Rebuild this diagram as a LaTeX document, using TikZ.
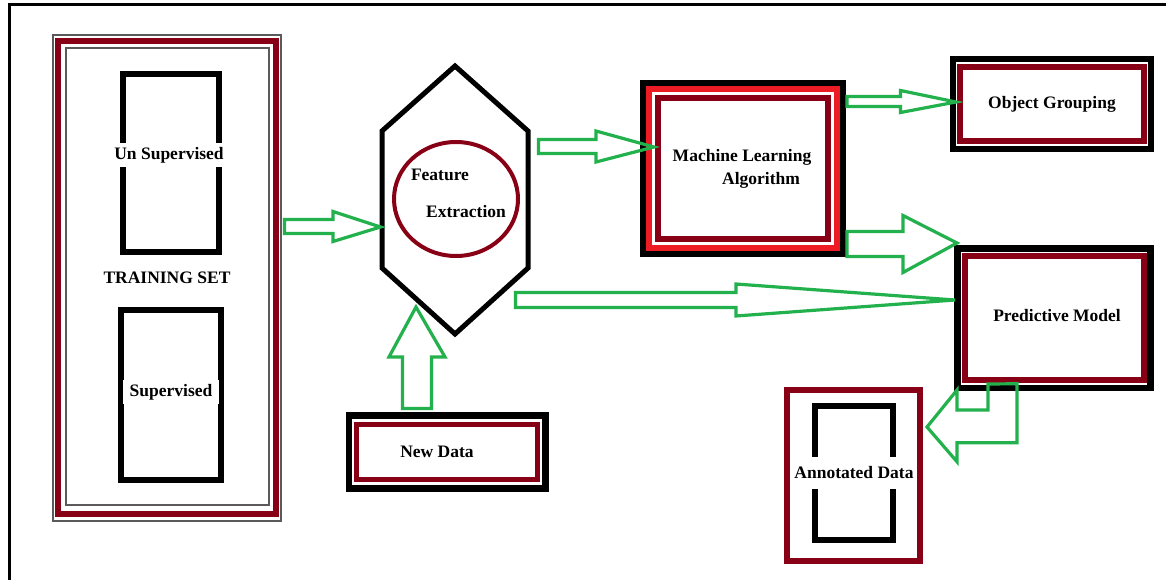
\documentclass[tikz,border=0pt]{standalone}
\usepackage{fontspec}
\setmainfont{Liberation Serif}
\usetikzlibrary{calc,shapes.geometric}

\definecolor{paintdarkred}{HTML}{880015}
\definecolor{paintred}{HTML}{ED1C24}
\definecolor{paintgreen}{HTML}{22B14C}
\definecolor{framegray}{HTML}{5A5A5A}

% hollow block arrows: tail, tip, body half width, head half width, head length
\newcommand{\rightflow}[5]{%
  \draw[flow] let \p1=(#1), \p2=(#2) in
    (\x1,\y1+#3pt) -- (\x2-#5pt,\y1+#3pt) -- (\x2-#5pt,\y1+#4pt) -- (\x2,\y2)
    -- (\x2-#5pt,\y1-#4pt) -- (\x2-#5pt,\y1-#3pt) -- (\x1,\y1-#3pt) -- cycle;}
\newcommand{\upflow}[5]{%
  \draw[flow] let \p1=(#1), \p2=(#2) in
    (\x1-#3pt,\y1) -- (\x1-#3pt,\y2-#5pt) -- (\x1-#4pt,\y2-#5pt) -- (\x2,\y2)
    -- (\x1+#4pt,\y2-#5pt) -- (\x1+#3pt,\y2-#5pt) -- (\x1+#3pt,\y1) -- cycle;}

\begin{document}
\begin{tikzpicture}[x=1pt,y=-1pt,
	every node/.style={font=\bfseries\fontsize{17.5}{20}\selectfont},
	blackbox/.style={rectangle,draw=black,inner sep=0pt,outer sep=0pt},
	redbox/.style={rectangle,draw=paintdarkred,inner sep=0pt,outer sep=0pt},
	gap/.style={fill=white,inner xsep=2pt,inner ysep=4pt},
	flow/.style={draw=paintgreen,line width=3.2pt}]
	\useasboundingbox (0,0) rectangle (1166,580);

	% Define page frame
	\draw[line width=3pt] (9,590) -- (9,5) -- (1176,5);

	% Define training set
	\node[redbox, line width=6pt, minimum width=218pt, minimum height=473pt] (TrainSet) at (167,277.5) {TRAINING SET};
	\draw[draw=framegray, line width=1.2pt] ([shift={(-5,-6)}]TrainSet.north west) rectangle ([shift={(5,7)}]TrainSet.south east);
	\draw[draw=framegray, line width=1.2pt] ([shift={(8,7)}]TrainSet.north west) rectangle ([shift={(-7,-9)}]TrainSet.south east);

	\node[blackbox, line width=6pt, minimum width=96pt, minimum height=178pt] (Unsup) at (171,163) {};
	\node[gap] (UnsupText) at ($(Unsup.center)+(-2,-8)$) {Un Supervised};
	\node[blackbox, line width=6pt, minimum width=100pt, minimum height=170pt] (Sup) at (171,395) {};
	\node[gap, inner xsep=7pt] (SupText) at ($(Sup.center)+(0,-3)$) {Supervised};

	% Define feature extraction
	\node[inner sep=0pt, outer sep=0pt, minimum width=146pt, minimum height=268pt] (Hex) at (455,200) {};
	\draw[line width=5pt] (Hex.north) -- ($(Hex.north east)+(0,65)$) -- ($(Hex.south east)+(0,-66)$)
		-- (Hex.south) -- ($(Hex.south west)+(0,-66)$) -- ($(Hex.north west)+(0,65)$) -- cycle;
	\node[ellipse, draw=paintdarkred, line width=4pt, inner sep=0pt, minimum width=124pt, minimum height=114pt] (Feature) at (456,199) {};
	\node (FeatureTop) at ($(Feature.center)+(-16,-24)$) {Feature};
	\node (FeatureBottom) at ($(Feature.center)+(10,13)$) {Extraction};

	% Define new data
	\node[blackbox, line width=6.5pt, minimum width=196.5pt, minimum height=73pt] (NewData) at (447,452) {};
	\node[redbox, line width=5pt, minimum width=181pt, minimum height=55.5pt] (NewDataIn) at (NewData.center) {};
	\node (NewDataText) at ($(NewData.center)+(-10,0)$) {New Data};

	% Define machine learning algorithm
	\node[blackbox, line width=5.5pt, minimum width=200pt, minimum height=171pt] (MLBox) at (743,168.5) {};
	\node[rectangle, draw=paintred, line width=6pt, outer sep=0pt, minimum width=188pt, minimum height=158pt] (MLRed) at (MLBox.center) {};
	\node[redbox, line width=6pt, minimum width=170pt, minimum height=140pt] (MLIn) at (MLBox.center) {};
	\node (MLTop) at ($(MLBox.center)+(-1,-11.5)$) {Machine Learning};
	\node (MLBottom) at ($(MLBox.center)+(18,11.5)$) {Algorithm};

	% Define object grouping
	\node[blackbox, line width=6pt, minimum width=198pt, minimum height=89.5pt] (ObjBox) at (1052,104) {};
	\node[redbox, line width=6pt, minimum width=184.5pt, minimum height=74pt] (ObjIn) at (ObjBox.center) {Object Grouping};

	% Define predictive model
	\node[blackbox, line width=6.5pt, minimum width=193pt, minimum height=139.5pt] (PredBox) at (1054,318) {};
	\node[redbox, line width=6pt, minimum width=179pt, minimum height=124pt] (PredIn) at (PredBox.center) {};
	\node (PredText) at ($(PredBox.center)+(3,-2)$) {Predictive Model};

	% Define annotated data
	\node[redbox, line width=6pt, minimum width=133pt, minimum height=171pt] (AnnotBox) at (853.5,475.5) {};
	\node[blackbox, line width=6pt, minimum width=78pt, minimum height=134pt] (AnnotCore) at ($(AnnotBox.center)+(0.5,-2.5)$) {};
	\node[gap, inner xsep=1pt, inner ysep=9.5pt] (AnnotText) at (AnnotCore.center) {Annotated Data};

	% Define arrows
	\coordinate (TrainExit) at ($(TrainSet.east)+(8.5,-51)$);
	\coordinate (HexEntry) at ($(Hex.west)+(-1.5,27)$);
	\rightflow{TrainExit}{HexEntry}{7}{15}{47.5}

	\coordinate (HexExit) at ($(Hex.east)+(10.5,-53.5)$);
	\coordinate (MLEntry) at ($(MLIn.west)+(-4,-21.5)$);
	\rightflow{HexExit}{MLEntry}{7}{15.5}{58}

	\coordinate (MLExitTop) at ($(MLBox.east)+(4,-67)$);
	\coordinate (ObjEntry) at ($(ObjBox.west)+(3,-2)$);
	\rightflow{MLExitTop}{ObjEntry}{5}{11}{55.5}

	\coordinate (MLExitLow) at ($(MLBox.east)+(4,75.5)$);
	\coordinate (PredEntryTop) at ($(PredBox.west)+(-0.5,-75)$);
	\rightflow{MLExitLow}{PredEntryTop}{12.5}{28.5}{54}

	\coordinate (HexExitLow) at ($(Hex.east)+(-12.5,100)$);
	\coordinate (PredEntryMid) at ($(PredBox.west)+(-2.5,-18)$);
	\rightflow{HexExitLow}{PredEntryMid}{7.5}{16}{219}

	\coordinate (NewDataExit) at ($(NewData.north)+(-30,-7)$);
	\coordinate (HexEntryLow) at ($(Hex.south)+(-39,-27)$);
	\upflow{NewDataExit}{HexEntryLow}{14.5}{28}{50}

	\draw[flow] ($(PredBox.south)+(-37,-4)$) -- ++(0,59) -- ++(-60,0) -- ++(0,19)
		-- ($(AnnotBox.east)+(7,-48.5)$) -- ++(30,-37) -- ++(0,20) -- ++(31,0) -- ++(0,-26) -- cycle;
\end{tikzpicture}
\end{document}
